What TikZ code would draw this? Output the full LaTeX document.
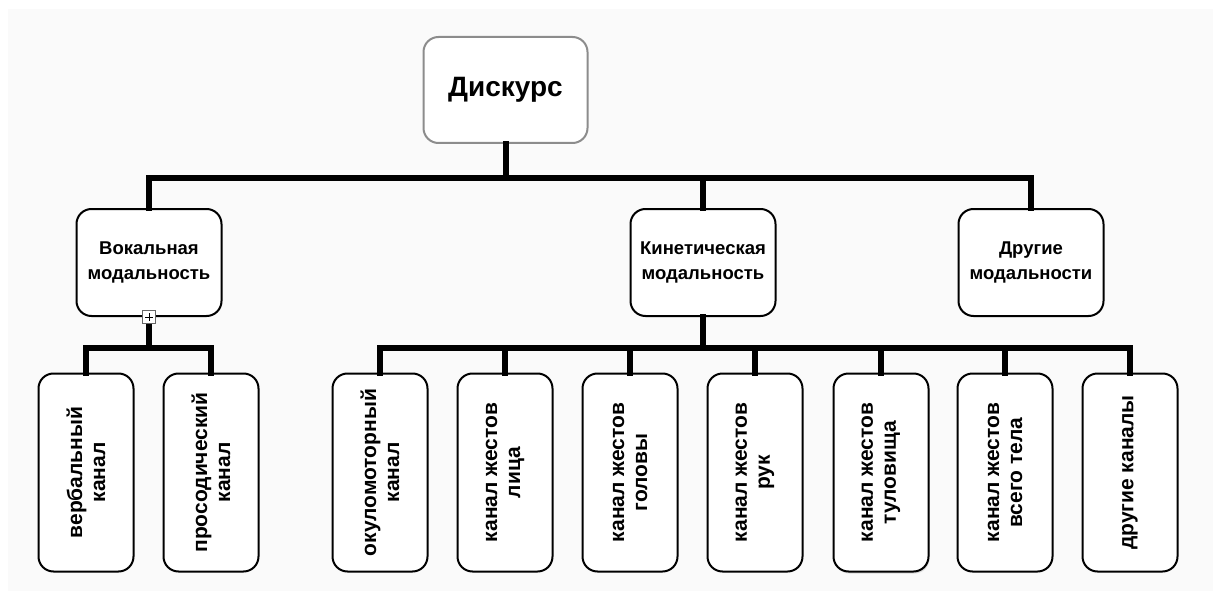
\documentclass[tikz,border=0pt]{standalone}
\usepackage{fontspec}
\setmainfont{Liberation Sans}
\usetikzlibrary{shadows}
\tikzset{
  every node/.style={font=\bfseries},
  topbox/.style={draw=black!45, line width=2pt, rounded corners=15pt, fill=white,
    minimum width=164pt, minimum height=106pt, inner sep=0pt, font=\fontsize{28}{32}\selectfont\bfseries},
  midbox/.style={draw=black, line width=2pt, rounded corners=15pt, fill=white,
    minimum width=145pt, minimum height=107pt, inner sep=0pt, align=center,
    font=\fontsize{18.5}{25}\selectfont\bfseries},
  botbox/.style={draw=black, line width=2pt, rounded corners=15pt, fill=white,
    minimum width=95pt, minimum height=198pt, inner sep=0pt},
  vtext/.style={rotate=90, align=center, inner sep=0pt, font=\fontsize{21}{23}\selectfont\bfseries},
  conn/.style={line width=6pt, line join=miter, line cap=rect},
  plusbox/.style={draw=black!60, line width=1pt, fill=white, minimum size=13pt, inner sep=0pt},
}
\begin{document}
\begin{tikzpicture}[x=1pt,y=-1pt]
\useasboundingbox (0,0) rectangle (1213,591);
\fill[white] (0,0) rectangle (1213,591);
\fill[black!2] (8,9) rectangle (1213,591);

\coordinate (b1) at (505,178);
\coordinate (b2) at (149,348);
\coordinate (b3) at (705,348);

\node[topbox] (top) at (505.5,90) {Дискурс};
\node[midbox] (vok) at (149,262.5) {Вокальная\\модальность};
\node[midbox] (kin) at (703,262.5) {Кинетическая\\модальность};
\node[midbox] (dr) at (1031,262.5) {Другие\\модальности};

\node[botbox] (c1) at (86,472.5) {};
\node[botbox] (c2) at (211,472.5) {};
\node[botbox] (k1) at (380,472.5) {};
\node[botbox] (k2) at (505,472.5) {};
\node[botbox] (k3) at (630,472.5) {};
\node[botbox] (k4) at (755,472.5) {};
\node[botbox, drop shadow={opacity=0.25, shadow xshift=1pt, shadow yshift=-2pt}] (k5) at (881,472.5) {};
\node[botbox] (k6) at (1005,472.5) {};
\node[botbox] (k7) at (1130,472.5) {};

\draw[conn] (top.south) -- (top.south |- b1);
\draw[conn] (vok.north) -- (vok.north |- b1) -- (dr.north |- b1) -- (dr.north);
\draw[conn] (kin.north) -- (kin.north |- b1);

\draw[conn] (vok.south) -- (vok.south |- b2);
\draw[conn] (c1.north) -- (c1.north |- b2) -- (c2.north |- b2) -- (c2.north);

\draw[conn] (kin.south) -- (kin.south |- b3);
\draw[conn] (k1.north) -- (k1.north |- b3) -- (k7.north |- b3) -- (k7.north);
\foreach \n in {k2,k3,k4,k5,k6} {\draw[conn] (\n.north) -- (\n.north |- b3);}

\node[plusbox] (plus) at (vok.south) {};
\draw[line width=0.8pt] ([xshift=-4pt]plus.center) -- ([xshift=4pt]plus.center);
\draw[line width=0.8pt] ([yshift=-4pt]plus.center) -- ([yshift=4pt]plus.center);

\node[vtext] (t1) at (c1) {вербальный\\канал};
\node[vtext] (t2) at (c2) {просодический\\канал};
\node[vtext] (t3) at (k1) {окуломоторный\\канал};
\node[vtext] (t4) at (k2) {канал жестов\\лица};
\node[vtext] (t5) at (k3) {канал жестов\\головы};
\node[vtext] (t6) at (k4) {канал жестов\\рук};
\node[vtext] (t7) at (k5) {канал жестов\\туловища};
\node[vtext] (t8) at (k6) {канал жестов\\всего тела};
\node[vtext] (t9) at (k7) {другие каналы};
\end{tikzpicture}
\end{document}
